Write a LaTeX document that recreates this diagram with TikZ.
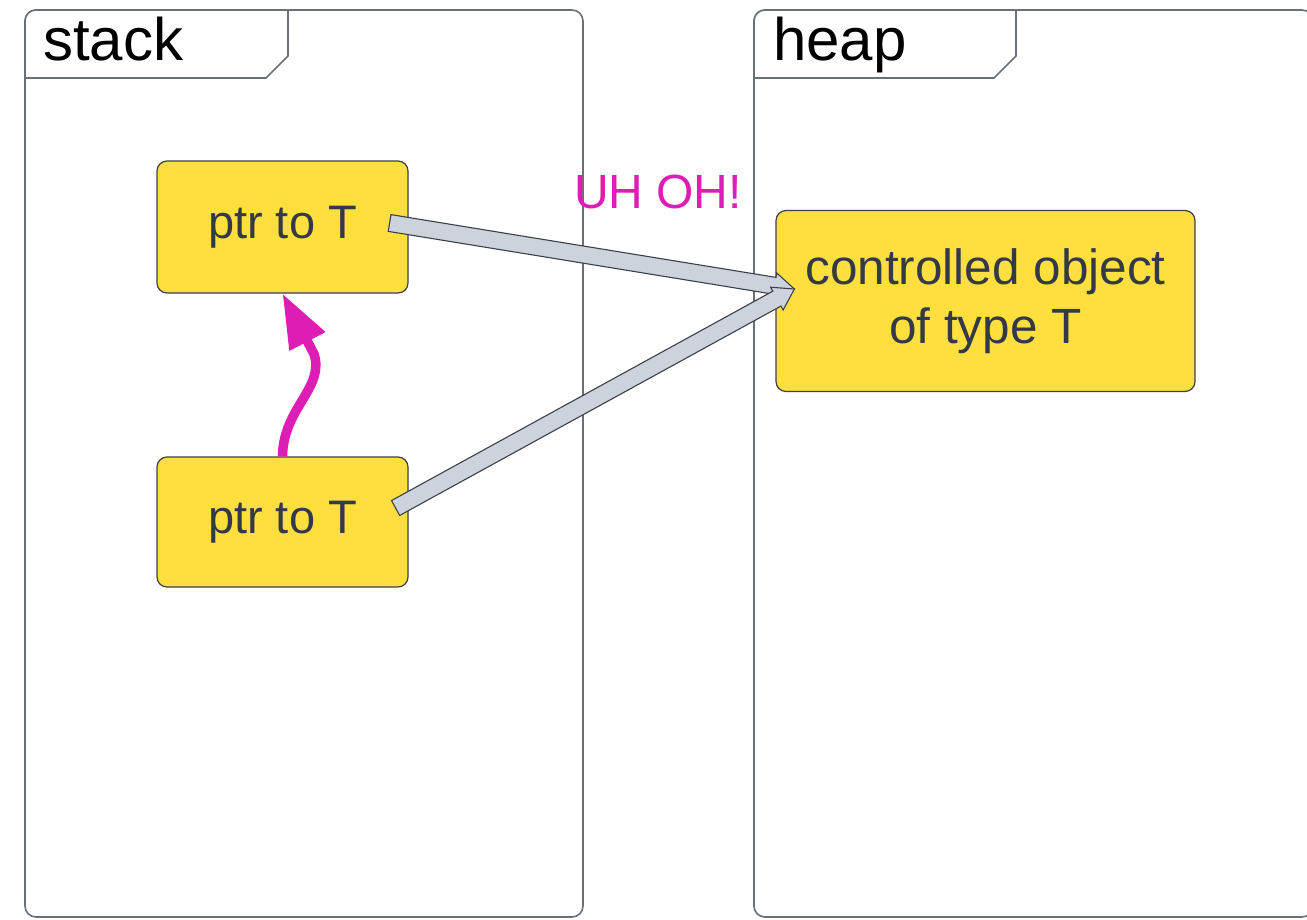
\documentclass[tikz,border=0pt]{standalone}
\usepackage{fontspec}
\setmainfont{Liberation Sans}
\usetikzlibrary{calc,arrows.meta}
\definecolor{boxfill}{HTML}{FFDF3D}
\definecolor{boxline}{HTML}{3B4048}
\definecolor{txt}{HTML}{333A45}
\definecolor{frameline}{HTML}{6A707A}
\definecolor{arrowfill}{HTML}{CDD3DC}
\definecolor{mag}{HTML}{DD1DB4}
\newcommand\myblockarrow[2]{%
  \coordinate (ba-s) at (#1);
  \coordinate (ba-e) at (#2);
  \coordinate (ba-m) at ($(ba-e)!20pt!(ba-s)$);
  \draw[blockarr] ($(ba-s)!8.5pt!90:(ba-e)$) -- ($(ba-m)!8.5pt!-90:(ba-s)$) -- ($(ba-m)!13pt!-90:(ba-s)$) -- (ba-e)
     -- ($(ba-m)!13pt!90:(ba-s)$) -- ($(ba-m)!8.5pt!90:(ba-s)$) -- ($(ba-s)!8.5pt!-90:(ba-e)$) -- cycle;
}
\begin{document}
\begin{tikzpicture}[x=1pt,y=-1pt,
  frame/.style={draw=frameline, line width=1.6pt, fill=white},
  hdr/.style={anchor=base west, inner sep=0pt, text=black, font=\fontsize{60}{66}\selectfont},
  ybox/.style={draw=boxline, line width=1.2pt, fill=boxfill, rounded corners=10pt, text=txt,
     align=center, inner sep=0pt, font=\fontsize{47}{59}\selectfont},
  blockarr/.style={draw=boxline, line width=1.1pt, fill=arrowfill, line join=miter},
  magarr/.style={draw=mag, line width=9.5pt, -{Triangle[length=54pt, width=38pt]}},
  warn/.style={text=mag, inner sep=0pt, font=\fontsize{48}{56}\selectfont}
]
\useasboundingbox (0,0) rectangle (1307,919);
\clip (0,0) rectangle (1307,919);
% frames
\draw[frame, rounded corners=11pt] (25,10) rectangle (583,917);
\draw[frame] (25,78) [rounded corners=11pt] -- (25,10) [sharp corners] -- (288,10) -- (288,56) -- (266,78) -- cycle;
\draw[frame, rounded corners=11pt] (754,10) rectangle (1313,917);
\draw[frame] (754,78) [rounded corners=11pt] -- (754,10) [sharp corners] -- (1016,10) -- (1016,56) -- (994,78) -- cycle;
\node[hdr] (stacklbl) at (43,60) {stack};
\node[hdr] (heaplbl) at (773,60) {heap};
% boxes
\node[ybox, minimum width=251pt, minimum height=132pt] (ptrA) at (282.5,227) {ptr to T};
\node[ybox, minimum width=251pt, minimum height=130pt] (ptrB) at (282.5,522) {ptr to T};
\node[ybox, minimum width=419pt, minimum height=181pt, font=\fontsize{49.5}{59}\selectfont] (obj) at (985.5,301) {controlled object\\of type T};
\node[warn] (uhoh) at (658,192) {UH OH!};
% connectors
\coordinate (endA) at ($(obj.west)+(19,-12)$);
\myblockarrow{$(ptrA.east)+(-19,-4)$}{endA}
\myblockarrow{$(ptrB.east)+(-13,-14)$}{endA}
\draw[magarr] (ptrB.north) .. controls (283,408) and (325,388) .. (314,354) -- (ptrA.south);
\end{tikzpicture}
\end{document}
